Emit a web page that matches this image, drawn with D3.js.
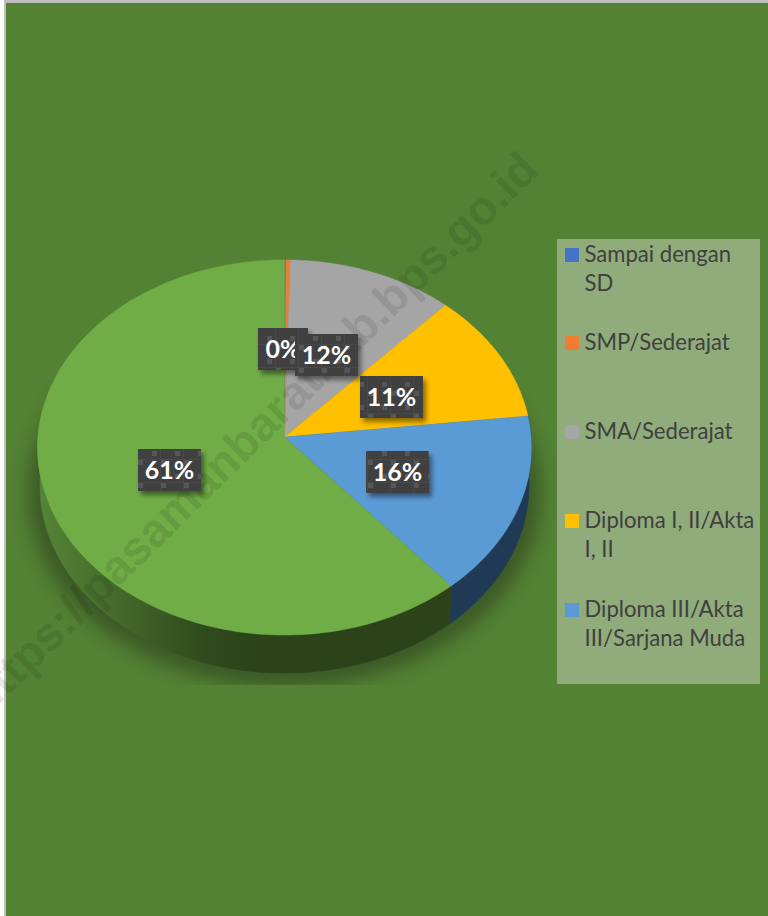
<!DOCTYPE html>
<html><head><meta charset="utf-8">
<script src="https://cdn.jsdelivr.net/npm/d3@7/dist/d3.min.js"></script>
<style>html,body{margin:0;padding:0;background:#fff}svg{display:block}</style></head>
<body><svg id="c" width="768" height="916"></svg>
<script>
const categories = ["Sampai dengan SD","SMP/Sederajat","SMA/Sederajat","Diploma I, II/Akta I, II","Diploma III/Akta III/Sarjana Muda","Diploma IV/Sarjana"];
const values = [0.1,0.3,11.5,11.3,15.6,61.2];
const percentLabels = ["","0%","12%","11%","16%","61%"];
const colors = ["#4472c4","#ed7d31","#a5a5a5","#ffc000","#5b9bd5","#70ad47"];
const sideColors = ["#203864","#843c0c","#525252","#7f6000","#203a55","url(#sideGreen)"];
const legendLines = [["Sampai dengan","SD"],["SMP/Sederajat"],["SMA/Sederajat"],["Diploma I, II/Akta","I, II"],["Diploma III/Akta","III/Sarjana Muda"]];
const legendBaselines = [262,350,439,528,617];
const watermark = "https://pasamanbaratkab.bps.go.id";

const svg = d3.select("#c");
const defs = svg.append("defs");
const cx=284.5, cy=437, A=187, B=246.6, k=-0.056, depth=38;
const project=(a,r=1,dy=0)=>{const x=Math.sin(a)*r,y=-Math.cos(a)*r,w=1+k*y;return [cx+B*x/w,cy+A*y/w+dy];};

svg.append("rect").attr("width",768).attr("height",916).attr("fill","#fff");
svg.append("rect").attr("x",4).attr("y",0).attr("width",764).attr("height",916).attr("fill","#bfbfbf");
svg.append("rect").attr("x",6).attr("y",3).attr("width",762).attr("height",913).attr("fill","#548235");

defs.append("filter").attr("id","blur").attr("x","-20%").attr("y","-20%").attr("width","140%").attr("height","140%")
  .append("feGaussianBlur").attr("stdDeviation",9);
defs.append("filter").attr("id","blur2").attr("x","-30%").attr("y","-30%").attr("width","170%").attr("height","170%")
  .append("feGaussianBlur").attr("stdDeviation",2.5);
defs.append("clipPath").attr("id","shClip").append("rect").attr("x",6).attr("y",380).attr("width",600).attr("height",305);
const g=defs.append("linearGradient").attr("id","sideGreen").attr("gradientUnits","userSpaceOnUse")
  .attr("x1",37).attr("x2",260).attr("y1",0).attr("y2",0);
g.append("stop").attr("offset",0).attr("stop-color","#568437");
g.append("stop").attr("offset",0.35).attr("stop-color","#446b2b");
g.append("stop").attr("offset",0.75).attr("stop-color","#2f4a1d");
g.append("stop").attr("offset",1).attr("stop-color","#2c431a");
const pat=defs.append("pattern").attr("id","tile").attr("patternUnits","userSpaceOnUse").attr("width",23).attr("height",23);
pat.append("rect").attr("width",23).attr("height",23).attr("fill","#404040");
pat.append("rect").attr("x",0).attr("y",0).attr("width",5).attr("height",5).attr("fill","#565656");
pat.append("rect").attr("x",14).attr("y",14).attr("width",5).attr("height",5).attr("fill","#565656");
pat.append("path").attr("d","M22.5 0V23M0 22.5H23").attr("stroke","#484848").attr("stroke-width",1);

const pie=d3.pie().value(d=>d).sort(null);
const arcs=pie(values);
const line=d3.line();

const fullAngles=d3.range(0,361,3).map(d=>d*Math.PI/180);
svg.append("g").attr("clip-path","url(#shClip)").append("path")
  .attr("d",line(fullAngles.map(a=>project(a,1.04,depth+6)))+"Z")
  .attr("fill","#2a3f1a").attr("opacity",0.6).attr("filter","url(#blur)");

const Q=Math.PI/2;
arcs.forEach((d,i)=>{
  const s=Math.max(d.startAngle,Q*0.9), e=Math.min(d.endAngle,Q*3.1);
  if(e<=s) return;
  const n=Math.ceil((e-s)/0.02), as=d3.range(n+1).map(j=>s+(e-s)*j/n);
  const top=as.map(a=>project(a)), bot=as.slice().reverse().map(a=>{const p=project(a,1,depth);return [cx+(p[0]-cx)*0.99,p[1]];});
  svg.append("path").attr("d",line(top.concat(bot))+"Z").attr("fill",sideColors[i]).attr("stroke",sideColors[i]).attr("stroke-width",0.5);
});

arcs.forEach((d,i)=>{
  const n=Math.max(2,Math.ceil((d.endAngle-d.startAngle)/0.02));
  const pts=[[cx,cy]].concat(d3.range(n+1).map(j=>project(d.startAngle+(d.endAngle-d.startAngle)*j/n)));
  svg.append("path").attr("d",line(pts)+"Z").attr("fill",colors[i]).attr("stroke",colors[i]).attr("stroke-width",0.4);
});

svg.append("rect").attr("x",557).attr("y",239).attr("width",203).attr("height",445).attr("fill","#8fac7a");
legendLines.forEach((lines,i)=>{
  const b=legendBaselines[i];
  svg.append("rect").attr("x",565).attr("y",b-14).attr("width",14).attr("height",14).attr("fill",colors[i]);
  lines.forEach((t,j)=>svg.append("text").attr("x",584.5).attr("y",b+j*29).text(t)
    .attr("font-family","Lato").attr("font-size",22.1).attr("fill","#404040"));
});

svg.append("text").text(watermark)
  .attr("transform","translate(541,172) rotate(-44.5)").attr("text-anchor","end")
  .attr("font-family","Liberation Sans").attr("font-weight","bold").attr("font-size",47)
  .attr("fill","#000").attr("fill-opacity",0.11);

[1,2,3,4,5].forEach(i=>{
  const d=arcs[i], mid=(d.startAngle+d.endAngle)/2, p=project(mid,0.49);
  const w=i===1?50:63, h=42, x=Math.round(p[0]-w/2-(i===1?3:i===2?2:0)), y=Math.round(p[1]-h/2+1);
  svg.append("rect").attr("x",x+3).attr("y",y+4).attr("width",w).attr("height",h).attr("fill","#000").attr("opacity",0.45).attr("filter","url(#blur2)");
  svg.append("rect").attr("x",x).attr("y",y).attr("width",w).attr("height",h).attr("fill","url(#tile)");
  svg.append("text").attr("x",x+w/2).attr("y",y+h/2+8.5).attr("text-anchor","middle").text(percentLabels[i])
    .attr("font-family","Lato").attr("font-weight","bold").attr("font-size",25).attr("fill","#fff");
});
</script></body></html>
